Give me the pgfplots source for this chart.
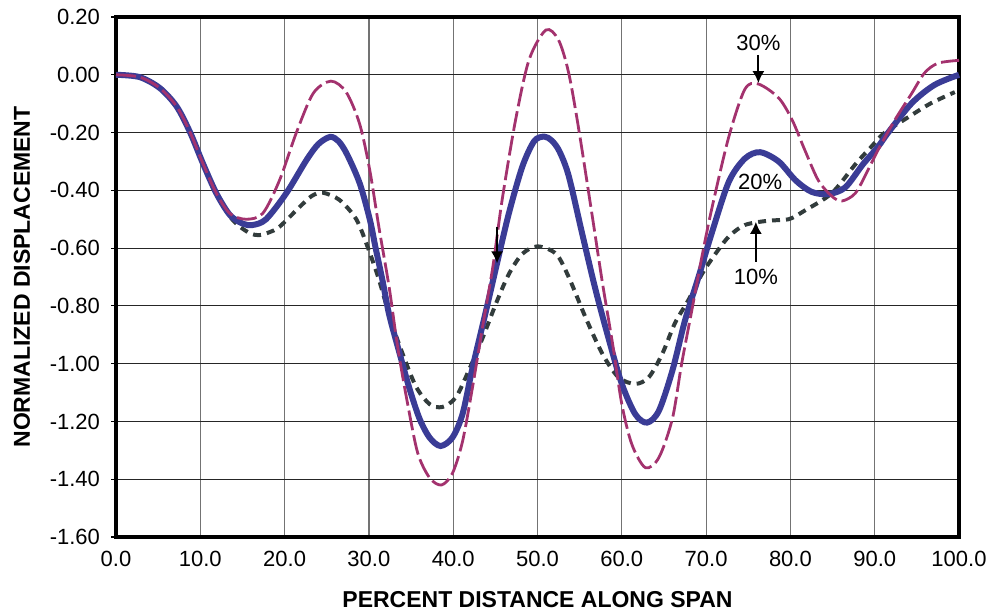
\documentclass[border=0pt]{standalone}
\usepackage{pgfplots}
\pgfplotsset{compat=1.18}
\usepackage{fontspec}
\setmainfont{Liberation Sans}
\usetikzlibrary{arrows.meta}
\definecolor{cthirty}{RGB}{163,50,110}
\definecolor{ctwenty}{RGB}{58,60,150}
\definecolor{cten}{RGB}{50,60,60}
\begin{document}
\begin{tikzpicture}
\begin{axis}[
  at={(58pt,37.5pt)}, anchor=south west,
  scale only axis, width=421.5pt, height=260pt,
  xmin=0, xmax=100, ymin=-1.6, ymax=0.2,
  clip=false,
  xtick={0,10,20,30,40,50,60,70,80,90,100},
  xticklabels={0.0,10.0,20.0,30.0,40.0,50.0,60.0,70.0,80.0,90.0,100.0},
  ytick={-1.6,-1.4,-1.2,-1,-0.8,-0.6,-0.4,-0.2,0,0.2},
  yticklabels={-1.60,-1.40,-1.20,-1.00,-0.80,-0.60,-0.40,-0.20,0.00,0.20},
  ticklabel style={font=\fontsize{11}{13}\selectfont},
  xtick pos=bottom, ytick pos=left,
  tick align=outside, major tick length=2.5pt,
  xtick style={draw=none},
  ytick style={black, line width=0.6pt},
  xmajorgrids, ymajorgrids,
  x grid style={black!55, line width=0.6pt},
  y grid style={black!85, line width=0.5pt},
  axis line style={black, line width=1.6pt},
  yticklabel style={xshift=-2pt},
  xticklabel style={yshift=-1pt},
  xlabel={PERCENT DISTANCE ALONG SPAN},
  ylabel={NORMALIZED DISPLACEMENT},
  label style={font=\fontsize{11.5}{13}\selectfont\bfseries},
  xlabel style={at={([yshift=-31.5pt]axis description cs:0.5,0)}, anchor=center},
  ylabel style={at={([xshift=-47pt]axis description cs:0,0.5)}, anchor=center, rotate=0},
]
% 10%
\addplot[cten, line width=2pt, dash pattern=on 4pt off 3pt, smooth, tension=0.5] coordinates {
(0,0) (2.8,-0.008) (5.2,-0.046) (7.2,-0.11) (8.8,-0.2) (10.3,-0.306) (11.9,-0.41)
(13.5,-0.49) (14.7,-0.526) (16.0,-0.55) (17.0,-0.555) (18.2,-0.545) (19.4,-0.526)
(21.8,-0.457) (23.2,-0.42) (24.5,-0.408) (26.5,-0.433) (28.5,-0.50) (29.9,-0.60)
(31.2,-0.71) (32.6,-0.85) (34.0,-0.966) (35.6,-1.08) (37.2,-1.14) (38.7,-1.15)
(40.3,-1.117) (41.9,-1.02) (43.5,-0.91) (45.1,-0.79) (46.6,-0.69) (48.2,-0.62)
(50.0,-0.594) (52.2,-0.62) (53.7,-0.70) (55.7,-0.84) (57.7,-0.966) (59.6,-1.047)
(61.6,-1.07) (63.2,-1.047) (64.8,-0.966) (66.3,-0.86) (67.9,-0.78) (69.5,-0.69)
(71.1,-0.62) (72.7,-0.56) (74.6,-0.52) (77.4,-0.505) (79.8,-0.50) (81.7,-0.47)
(84.9,-0.41) (87.7,-0.31) (89.6,-0.249) (91.2,-0.2) (94.4,-0.139) (96.7,-0.098)
(99.5,-0.06)
};
% 20%
\addplot[ctwenty, line width=3pt, smooth, tension=0.5] coordinates {
(0,0) (2.8,-0.008) (5.2,-0.046) (7.2,-0.11) (8.8,-0.2) (10.3,-0.306) (11.9,-0.41)
(13.5,-0.485) (15.0,-0.515) (16.2,-0.52) (17.8,-0.50) (20.2,-0.41) (22.6,-0.295)
(24.0,-0.24) (25.4,-0.215) (26.4,-0.23) (27.4,-0.275) (28.9,-0.375) (30.1,-0.50) (30.8,-0.60)
(31.6,-0.71) (32.4,-0.83) (33.6,-0.96) (34.8,-1.085) (36.0,-1.19) (37.2,-1.256)
(38.5,-1.285) (39.9,-1.256) (41.1,-1.175) (42.3,-1.013) (43.9,-0.816) (45.1,-0.665)
(46.6,-0.48) (48.2,-0.318) (49.6,-0.23) (50.8,-0.214) (51.7,-0.228) (52.6,-0.265) (53.7,-0.35)
(55.3,-0.55) (56.9,-0.746) (58.5,-0.92) (60.0,-1.07) (61.6,-1.175) (63.0,-1.204)
(64.4,-1.163) (66.0,-1.024) (67.5,-0.85) (69.1,-0.70) (70.7,-0.545) (72.7,-0.37)
(74.6,-0.29) (76.4,-0.268) (78.6,-0.30) (80.6,-0.365) (82.5,-0.405) (84.5,-0.413)
(86.5,-0.39) (88.6,-0.31) (90.4,-0.249) (91.6,-0.2) (94.4,-0.098) (97.1,-0.035)
(100,0)
};
% 30%
\addplot[cthirty, line width=1.4pt, dash pattern=on 10pt off 2.5pt, smooth, tension=0.5] coordinates {
(0,0) (2.8,-0.008) (5.2,-0.046) (7.2,-0.11) (8.8,-0.2) (10.3,-0.306) (11.9,-0.41)
(13.5,-0.48) (15.4,-0.50) (17.4,-0.48) (19.4,-0.365) (21.4,-0.2) (23.4,-0.064)
(25.5,-0.022) (27.3,-0.06) (28.9,-0.17) (30.1,-0.33) (31.2,-0.53) (32.4,-0.735)
(33.4,-0.94) (34.6,-1.14) (35.8,-1.31) (37.2,-1.395) (38.6,-1.42) (39.9,-1.38)
(41.1,-1.27) (42.3,-1.08) (43.5,-0.87) (44.7,-0.665) (45.8,-0.434) (47.4,-0.156)
(49.0,0.052) (51.0,0.155) (52.5,0.12) (53.7,0.006) (54.9,-0.19) (56.5,-0.49)
(57.7,-0.72) (58.9,-0.93) (60.0,-1.14) (61.2,-1.28) (62.8,-1.36) (64.4,-1.325)
(66.0,-1.19) (67.1,-1.0) (68.3,-0.816) (69.5,-0.63) (70.7,-0.46) (72.7,-0.214)
(74.6,-0.05) (76.2,-0.032) (78.6,-0.08) (80.2,-0.156) (81.7,-0.26) (83.3,-0.365)
(84.9,-0.42) (86.1,-0.437) (87.7,-0.41) (89.2,-0.33) (90.4,-0.26) (92.4,-0.156)
(94.4,-0.064) (95.9,0.006) (97.5,0.04) (100,0.05)
};
% annotations
\node[font=\fontsize{11}{13}\selectfont] at (axis cs:76.2,0.111) {30\%};
\node[font=\fontsize{11}{13}\selectfont] at (axis cs:76.4,-0.372) {20\%};
\node[font=\fontsize{11}{13}\selectfont] at (axis cs:75.9,-0.70) {10\%};
\draw[black, line width=1pt, -{Latex[length=6pt,width=6pt]}] (axis cs:76.2,0.069) -- (axis cs:76.2,-0.029);
\draw[black, line width=1pt, -{Latex[length=6pt,width=6pt]}] (axis cs:75.9,-0.648) -- (axis cs:75.9,-0.509);
\draw[black, line width=1pt, -{Latex[length=6pt,width=6pt]}] (axis cs:45.2,-0.528) -- (axis cs:45.2,-0.653);
\end{axis}
\pgfresetboundingbox
\path[use as bounding box] (0,0) rectangle (494.5pt,306pt);
\end{tikzpicture}
\end{document}
